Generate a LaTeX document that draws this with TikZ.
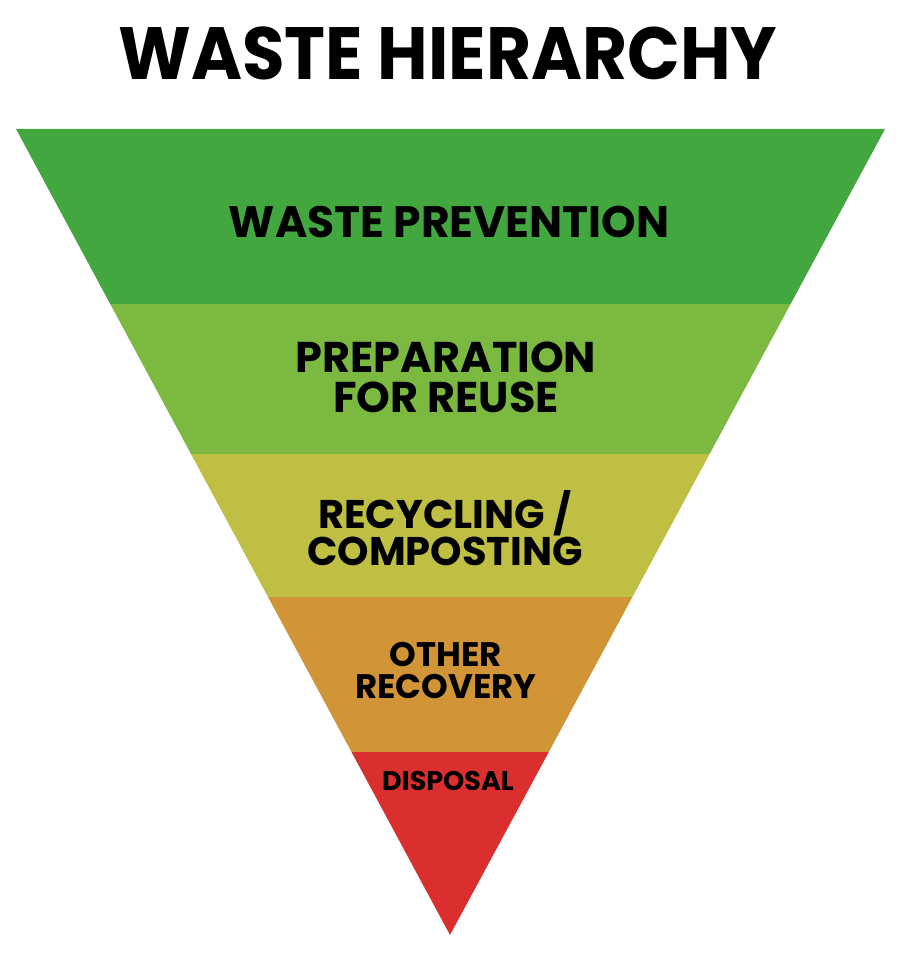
\documentclass[tikz,border=0pt]{standalone}
\usepackage{fontspec}
\setmainfont{Poppins}
\usetikzlibrary{positioning}

\definecolor{prevgreen}{HTML}{42A73F}
\definecolor{reusegreen}{HTML}{7BB940}
\definecolor{recyolive}{HTML}{BFC043}
\definecolor{recovorange}{HTML}{D19437}
\definecolor{disposred}{HTML}{DB2E2E}

\tikzstyle{lbl} = [inner sep=0pt, align=center, text=black, font=\bfseries]

\begin{document}
\begin{tikzpicture}[x=1pt,y=-1pt]
\useasboundingbox (0,0) rectangle (900,957);

% bands of the pyramid, top to bottom
\fill[prevgreen] (16,129) -- (885,129) -- (790.6,304) -- (110.2,304) -- cycle;
\fill[reusegreen] (110.2,304) -- (790.6,304) -- (709.6,454) -- (191,454) -- cycle;
\fill[recyolive] (191,454) -- (709.6,454) -- (632.4,597) -- (268,597) -- cycle;
\fill[recovorange] (268,597) -- (632.4,597) -- (548.8,752) -- (351.5,752) -- cycle;
\fill[disposred] (351.5,752) -- (548.8,752) -- (450,935) -- cycle;

\node[lbl, anchor=base, font=\bfseries\fontsize{74}{80}\selectfont] (Title) at (448,80) {\scalebox{0.935}[1]{WASTE HIERARCHY}};

\node[lbl, font=\bfseries\fontsize{44}{40}\selectfont] (Prevention) at (449,222) {WASTE PREVENTION};
\node[lbl, font=\bfseries\fontsize{43}{40}\selectfont] (Reuse) at (446,377) {PREPARATION\\FOR REUSE};
\node[lbl, font=\bfseries\fontsize{40}{37}\selectfont] (Recycling) at (445,528) {RECYCLING /\\COMPOSTING};
\node[lbl, font=\bfseries\fontsize{34}{32}\selectfont] (Recovery) at (446,671) {OTHER\\RECOVERY};
\node[lbl, font=\bfseries\fontsize{27}{30}\selectfont] (Disposal) at (448,781) {DISPOSAL};

\end{tikzpicture}
\end{document}
